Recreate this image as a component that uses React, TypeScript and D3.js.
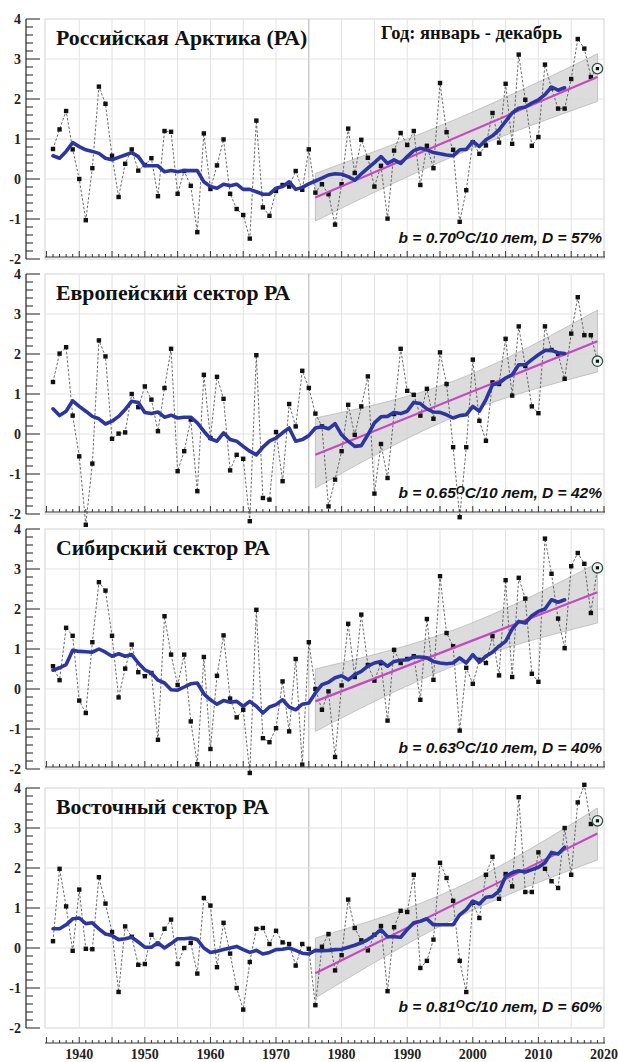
import React from 'react';
import * as d3 from 'd3';

// ---------- DATA ----------
const years = d3.range(1936, 2020);          // 1936..2019 observed years
const smoothYears = d3.range(1936, 2015);    // 1936..2014 smoothed curve
const trendYears = [1976, 2019];
const bandYears = [1976, 1997.5, 2019];
const yTickLabels = [4, 3, 2, 1, 0, -1, -2];
const xTickLabels = [1940, 1950, 1960, 1970, 1980, 1990, 2000, 2010, 2020];

const titles = ['Российская Арктика (РА)', 'Европейский сектор РА', 'Сибирский сектор РА', 'Восточный сектор РА'];
const slopes = ['0.70', '0.65', '0.63', '0.81'];
const dValues = ['57', '42', '40', '60'];
const seasonLabel = 'Год: январь - декабрь';

const obsRA = [
  0.75, 1.24, 1.70, 0.74, 0.0, -1.03, 0.27, 2.31, 1.88, 0.58, -0.45, 0.38, 0.74, 0.21, 0.35, 0.52, -0.43, 1.2, 1.18, -0.37,
  0.2, -0.17, -1.33, 1.14, -0.25, 0.34, 0.99, -0.37, -0.75, -0.9, -1.49, 1.46, -0.71, -0.92, -0.3, -0.15, -0.19, 0.2, -0.27, 0.74,
  -0.34, -0.13, -0.38, -1.14, -0.13, 1.26, 0.15, 0.98, 0.53, -0.19, 0.33, -0.99, 0.71, 1.15, 0.85, 1.2, -0.15, 0.83, 0.27, 2.4,
  1.17, 0.73, -1.07, -0.28, 0.92, 0.63, 0.84, 1.65, 0.91, 2.38, 0.88, 3.11, 1.98, 0.83, 1.05, 2.86, 2.27, 1.76, 1.76, 2.5,
  3.5, 3.26, 2.55, 2.76,
];
const smoothRA = [
  0.58, 0.52, 0.69, 0.91, 0.81, 0.73, 0.69, 0.64, 0.52, 0.48, 0.54, 0.6, 0.66, 0.56, 0.33, 0.33, 0.33, 0.18, 0.21, 0.18,
  0.21, 0.21, 0.21, -0.07, -0.19, -0.23, -0.13, -0.17, -0.13, -0.26, -0.26, -0.32, -0.38, -0.38, -0.23, -0.19, -0.07, -0.26, -0.21, -0.12,
  -0.05, 0.02, 0.1, 0.13, 0.12, 0.06, -0.03, 0.13, 0.27, 0.41, 0.56, 0.39, 0.48, 0.39, 0.56, 0.71, 0.77, 0.73, 0.66, 0.63,
  0.6, 0.58, 0.73, 0.74, 0.94, 0.81, 0.98, 1.08, 1.23, 1.44, 1.65, 1.77, 1.8, 1.9, 1.98, 2.11, 2.3, 2.22, 2.28,
];
const trendRA = [-0.46, 2.55];
const bandLoRA = [-1.05, 0.6, 1.94];
const bandHiRA = [0.14, 1.5, 3.13];

const obsEU = [
  1.3, 2.01, 2.17, 0.46, -0.56, -2.27, -0.74, 2.34, 1.94, -0.12, 0.01, 0.04, 1.0, 0.67, 1.19, 0.86, 0.07, 1.15, 2.13, -0.93,
  -0.43, 0.36, -1.43, 1.48, -0.1, 1.43, 0.88, -0.91, -0.52, -0.62, -2.18, 1.97, -1.6, -1.64, 0.05, -1.18, 0.75, 0.19, 1.58, 1.15,
  0.51, 0.19, -1.81, -1.14, -0.43, 0.73, -0.02, 0.69, 1.44, -1.49, -0.25, -1.1, 0.5, 2.13, 1.08, 0.98, 0.46, 1.13, 0.38, 2.04,
  1.25, -0.33, -2.08, -0.33, 1.86, 0.33, -0.17, 1.29, 1.25, 2.38, 0.96, 2.69, 1.7, 0.69, 0.52, 2.69, 2.1, 2.0, 1.38, 2.51,
  3.42, 2.47, 2.47, 1.82,
];
const smoothEU = [
  0.63, 0.46, 0.57, 0.83, 0.69, 0.57, 0.44, 0.38, 0.25, 0.32, 0.44, 0.61, 0.82, 0.79, 0.54, 0.51, 0.55, 0.42, 0.47, 0.4,
  0.42, 0.42, 0.28, 0.07, -0.12, -0.18, 0.03, -0.14, -0.18, -0.31, -0.43, -0.52, -0.33, -0.18, -0.1, 0.03, 0.15, -0.18, -0.14, -0.04,
  0.15, 0.18, 0.13, 0.26, -0.02, -0.18, -0.31, -0.29, -0.02, 0.28, 0.43, 0.44, 0.54, 0.51, 0.57, 0.79, 0.76, 0.63, 0.55, 0.54,
  0.48, 0.4, 0.46, 0.48, 0.69, 0.57, 0.86, 1.23, 1.27, 1.4, 1.48, 1.73, 1.73, 1.86, 1.98, 2.09, 2.09, 2.03, 2.01,
];
const trendEU = [-0.52, 2.32];
const bandLoEU = [-1.35, 0.45, 1.55];
const bandHiEU = [0.4, 1.35, 3.1];

const obsSB = [
  0.57, 0.22, 1.53, 1.33, -0.29, -0.6, 1.17, 2.67, 2.46, 1.33, -0.21, 0.51, 1.11, 0.42, 0.32, 0.4, -1.27, 1.82, 0.86, 0.1,
  0.86, -0.81, -1.88, 0.8, -1.5, 0.33, 1.34, -0.24, -0.71, -0.52, -2.1, 1.98, -1.23, -1.33, -0.98, 0.19, -1.06, 0.75, -1.89, 1.17,
  0.0, -0.52, -0.06, -1.7, 0.09, 1.63, 0.3, 1.86, 0.6, 0.21, 0.65, -0.79, 0.98, 0.65, 0.75, 0.82, -0.27, 1.75, 0.23, 2.82,
  1.4, 1.07, -1.04, 0.53, 0.13, 0.73, 0.65, 1.32, 0.34, 2.72, 0.3, 2.78, 2.26, 0.38, 0.18, 3.76, 2.88, 1.76, 1.02, 3.07,
  3.4, 3.13, 1.9, 3.03,
];
const smoothSB = [
  0.47, 0.53, 0.61, 0.97, 0.94, 0.93, 0.92, 1.0, 0.92, 0.82, 0.88, 0.82, 0.86, 0.65, 0.48, 0.4, 0.22, 0.15, -0.02, -0.03,
  0.05, 0.13, 0.15, -0.12, -0.27, -0.38, -0.29, -0.33, -0.31, -0.43, -0.31, -0.43, -0.6, -0.45, -0.39, -0.27, -0.45, -0.52, -0.38, -0.35,
  -0.1, 0.11, 0.17, 0.28, 0.33, 0.23, 0.36, 0.44, 0.57, 0.65, 0.69, 0.57, 0.69, 0.72, 0.73, 0.8, 0.8, 0.78, 0.69, 0.65,
  0.63, 0.65, 0.78, 0.65, 0.86, 0.67, 0.82, 0.92, 1.07, 1.19, 1.5, 1.69, 1.65, 1.83, 1.94, 2.0, 2.23, 2.17, 2.23,
];
const trendSB = [-0.31, 2.42];
const bandLoSB = [-1.06, 0.6, 1.65];
const bandHiSB = [0.5, 1.5, 3.15];

const obsEA = [
  0.17, 1.98, 1.04, -0.07, 1.46, -0.02, -0.03, 1.77, 1.11, 0.4, -1.1, 0.54, 0.28, -0.42, -0.4, 0.33, 0.1, 0.48, 0.71, -0.4,
  0.0, 0.13, -0.64, 1.25, 1.06, -0.48, 0.63, -0.14, -1.0, -1.54, -0.35, 0.48, 0.5, 0.1, 0.43, 0.14, 0.1, -0.44, 0.1, -0.02,
  -1.43, 0.03, 0.35, -0.56, -0.18, 1.21, 0.5, 0.19, -0.06, 0.33, 0.55, -1.08, 0.52, 0.93, 0.9, 1.83, -0.5, -0.32, 0.21, 2.13,
  1.75, 1.18, -0.32, -1.1, 1.13, 0.75, 1.83, 2.28, 1.23, 1.85, 1.54, 3.77, 1.4, 1.4, 2.39, 1.98, 1.67, 1.5, 3.0, 1.83,
  3.64, 4.08, 3.1, 3.18,
];
const smoothEA = [
  0.48, 0.48, 0.58, 0.73, 0.75, 0.61, 0.63, 0.48, 0.35, 0.31, 0.21, 0.23, 0.27, 0.15, 0.02, 0.02, 0.13, 0.0, 0.11, 0.23,
  0.23, 0.25, 0.21, 0.0, -0.11, -0.08, -0.04, 0.0, 0.04, -0.04, -0.11, -0.06, -0.15, -0.11, -0.04, -0.03, 0.0, -0.06, -0.13, -0.15,
  -0.06, -0.07, -0.06, -0.04, -0.03, 0.02, 0.07, 0.13, 0.21, 0.32, 0.46, 0.28, 0.28, 0.27, 0.46, 0.63, 0.67, 0.73, 0.58, 0.58,
  0.58, 0.58, 0.83, 0.96, 1.17, 1.1, 1.27, 1.29, 1.42, 1.79, 1.88, 1.93, 1.9, 1.96, 2.02, 2.13, 2.39, 2.35, 2.52,
];
const trendEA = [-0.63, 2.86];
const bandLoEA = [-1.25, 0.75, 2.2];
const bandHiEA = [0.25, 1.5, 3.5];

const obsList = [obsRA, obsEU, obsSB, obsEA];
const smoothList = [smoothRA, smoothEU, smoothSB, smoothEA];
const trendList = [trendRA, trendEU, trendSB, trendEA];
const bandLoList = [bandLoRA, bandLoEU, bandLoSB, bandLoEA];
const bandHiList = [bandHiRA, bandHiEU, bandHiSB, bandHiEA];

// ---------- LAYOUT ----------
const W = 618;
const H = 1062;
const zeroY = [179, 434, 689, 948];
const unit = 40;
const plotLeft = 45;
const plotRight = 604;
const x = d3.scaleLinear().domain([1936, 2020]).range([53, 604]);

const serif = '"Liberation Serif", "Times New Roman", serif';
const sans = '"Liberation Sans", Arial, sans-serif';

function Panel({ i }: { i: number }) {
  const y0 = zeroY[i];
  const y = d3.scaleLinear().domain([-2, 4]).range([y0 + 2 * unit, y0 - 4 * unit]);
  const obs = obsList[i];
  const smooth = smoothList[i];
  const trend = trendList[i];
  const lo = bandLoList[i];
  const hi = bandHiList[i];
  const isLast = i === 3;
  const axisY = isLast ? y0 + 95 : y0 + 78;

  const obsLine = d3.line<number>().x((_, k) => x(years[k])).y((d) => y(d))(obs) || '';
  const smoothLine = d3.line<number>().x((_, k) => x(smoothYears[k])).y((d) => y(d)).curve(d3.curveLinear)(smooth) || '';
  const trendLine = d3.line<number>().x((_, k) => x(trendYears[k])).y((d) => y(d))(trend) || '';
  const band = d3
    .area<number>()
    .x((_, k) => x(bandYears[k]))
    .y0((_, k) => y(lo[k]))
    .y1((d) => y(d))
    .curve(d3.curveNatural)(hi) || '';

  const vGrid = d3.range(1940, 2020, 5);
  const hGrid = [-1, 0, 1, 2, 3];
  const yMinor = d3.range(-2, 4.001, 0.2);
  const xTicks = d3.range(1935, 2021, 1);
  const lastYear = years[years.length - 1];
  const lastVal = obs[obs.length - 1];

  return (
    <g>
      {/* plot frame & grid */}
      <rect x={plotLeft} y={y(4)} width={plotRight - plotLeft} height={y(-2) - y(4)} fill="#fff" stroke="#d4d4d4" strokeWidth={1} />
      {vGrid.map((v) => (
        <line key={'vg' + v} x1={x(v)} x2={x(v)} y1={y(4)} y2={y(-2)} stroke={v === 1975 ? '#b4b4b4' : '#e2e2e2'} strokeWidth={1} />
      ))}
      {hGrid.map((v) => (
        <line key={'hg' + v} x1={plotLeft} x2={plotRight} y1={y(v)} y2={y(v)} stroke="#e2e2e2" strokeWidth={1} />
      ))}

      {/* confidence band */}
      <path d={band} fill="#d6d6d6" fillOpacity={0.85} stroke="#a8a8a8" strokeWidth={0.6} />

      {/* observations */}
      <path d={obsLine} fill="none" stroke="#444" strokeWidth={0.8} strokeDasharray="2.5,1.8" />
      {obs.map((d, k) => (
        <rect key={'m' + k} x={x(years[k]) - 2.2} y={y(d) - 2.2} width={4.4} height={4.4} fill="#111" />
      ))}

      {/* trend */}
      <path d={trendLine} fill="none" stroke="#c548c2" strokeWidth={2.2} />

      {/* smoothed */}
      <path d={smoothLine} fill="none" stroke="#2c36a0" strokeWidth={3.6} strokeLinejoin="round" strokeLinecap="round" />

      {/* last value circle */}
      <circle cx={x(lastYear)} cy={y(lastVal)} r={5.2} fill="#f2f2f2" stroke="#2f5545" strokeWidth={1.3} />
      <rect x={x(lastYear) - 1.6} y={y(lastVal) - 1.6} width={3.2} height={3.2} fill="#111" />

      {/* y axis */}
      <line x1={26} x2={26} y1={y(4)} y2={y(-2)} stroke="#333" strokeWidth={1.3} />
      {yMinor.map((v, k) => {
        const major = Math.abs(v - Math.round(v)) < 0.01;
        return <line key={'yt' + k} x1={26} x2={major ? 40 : 33} y1={y(v)} y2={y(v)} stroke="#333" strokeWidth={1.1} />;
      })}
      {yTickLabels.map((v) => (
        <text key={'yl' + v} x={21} y={y(v)} dy="0.35em" textAnchor="end" fontFamily={serif} fontWeight="bold" fontSize={14} fill="#222">
          {v}
        </text>
      ))}

      {/* x tick axis */}
      <line x1={plotLeft} x2={plotRight + 1} y1={axisY} y2={axisY} stroke="#333" strokeWidth={1.1} />
      {xTicks.map((t) => {
        if (x(t) < plotLeft - 0.5) return null;
        const major = t % 5 === 0;
        return <line key={'xt' + t} x1={x(t)} x2={x(t)} y1={axisY} y2={axisY - (major ? 6 : 3)} stroke="#333" strokeWidth={1} />;
      })}
      {isLast &&
        xTickLabels.map((t) => (
          <text key={'xl' + t} x={x(t)} y={axisY + 16} textAnchor="middle" fontFamily={serif} fontWeight="bold" fontSize={14} fill="#222">
            {t}
          </text>
        ))}

      {/* title */}
      <text x={56} y={y0 - 134} fontFamily={serif} fontWeight="bold" fontSize={21.8} fill="#111">
        {titles[i]}
      </text>
      {i === 0 && (
        <text x={562} y={39} textAnchor="end" fontFamily={serif} fontWeight="bold" fontSize={18.5} fill="#111">
          {seasonLabel}
        </text>
      )}

      {/* annotation */}
      <text x={602} y={y0 + 64} textAnchor="end" fontFamily={sans} fontWeight="bold" fontStyle="italic" fontSize={15.5} fill="#111">
        <tspan>{'b = ' + slopes[i]}</tspan>
        <tspan dy={-4} fontSize={11.5}>O</tspan>
        <tspan dy={4}>{'C/10 лет, D = ' + dValues[i] + '%'}</tspan>
      </text>
    </g>
  );
}

export default function App() {
  return (
    <div style={{ position: 'absolute', left: 0, top: 0, width: W, height: H, background: '#fff' }}>
      <svg width={W} height={H} viewBox={`0 0 ${W} ${H}`} style={{ display: 'block' }}>
        <rect x={0} y={0} width={W} height={H} fill="#fff" />
        {titles.map((_, i) => (
          <Panel key={i} i={i} />
        ))}
      </svg>
    </div>
  );
}
